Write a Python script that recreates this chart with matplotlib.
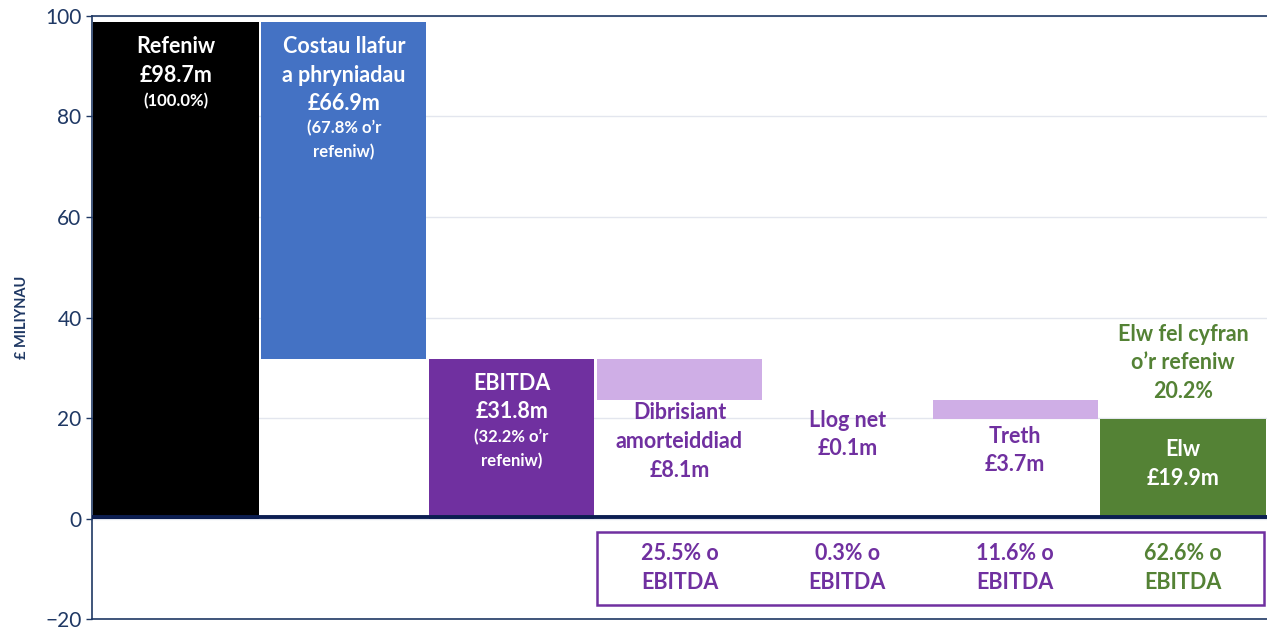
import matplotlib
matplotlib.use("Agg")
import matplotlib.pyplot as plt
from matplotlib.patches import Rectangle

# waterfall data (£ millions)
categories = ["Refeniw", "Costau", "EBITDA", "Dibrisiant", "Llog", "Treth", "Elw"]
revenue = 98.7
deductions = [66.9, 8.1, 0.1, 3.7]   # costs, depreciation, interest, tax
ebitda = 31.8
profit = 19.9

bar_labels = [
    "Refeniw\n£98.7m",
    "Costau llafur\na phryniadau\n£66.9m",
    "EBITDA\n£31.8m",
    "Dibrisiant\namorteiddiad\n£8.1m",
    "Llog net\n£0.1m",
    "Treth\n£3.7m",
    "Elw\n£19.9m",
]
sub_labels = ["(100.0%)", "(67.8% o\u2019r\nrefeniw)", "(32.2% o\u2019r\nrefeniw)", "", "", "", ""]
ebitda_share = ["25.5% o\nEBITDA", "0.3% o\nEBITDA", "11.6% o\nEBITDA", "62.6% o\nEBITDA"]
profit_margin = "Elw fel cyfran\no\u2019r refeniw\n20.2%"

NAVY = "#1F3864"
PURPLE = "#7030A0"
LILAC = "#CFAEE6"
GREEN = "#548235"
BLUE = "#4472C4"
# the interest bar is too thin to show in the original, so leave it unfilled
colors = ["#000000", BLUE, PURPLE, LILAC, "none", LILAC, GREEN]

plt.rcParams["font.family"] = ["Lato", "DejaVu Sans"]
FS = 15.5
LS = 1.45

# work out bottoms/heights of the floating bars
heights = [revenue, deductions[0], ebitda, deductions[1], deductions[2], deductions[3], profit]
bottoms = [0, revenue - deductions[0], 0]
level = ebitda
for d in deductions[1:]:
    level = level - d
    bottoms.append(level)
bottoms.append(0)

fig = plt.figure(figsize=(12.67, 6.30), dpi=100)
ax = fig.add_axes([0.0726, 0.017, 0.9274, 0.958])

x = list(range(len(categories)))
ax.bar(x, heights, bottom=bottoms, width=0.985, color=colors, zorder=2)

ax.set_xlim(-0.5, 6.5)
ax.set_ylim(-20, 100)
ax.set_yticks([-20, 0, 20, 40, 60, 80, 100])
ax.set_xticks([])
ax.tick_params(axis="y", colors=NAVY, labelsize=15, length=4, width=1)
ax.yaxis.grid(True, color="#E3E6EE", lw=1, zorder=0)
for s in ["left", "top", "bottom"]:
    ax.spines[s].set_color(NAVY)
    ax.spines[s].set_linewidth(1.2)
ax.spines["right"].set_visible(False)
ax.axhline(0.3, color="#0C1E52", lw=2.8, zorder=4)
ax.set_ylabel("£ MILIYNAU", fontsize=10.5, color=NAVY, fontweight="bold", labelpad=12)

# labels inside the first three bars
tops = [b + h for b, h in zip(bottoms, heights)]
for i in [0, 1, 2]:
    ax.annotate(bar_labels[i], (x[i], tops[i]), xytext=(0, -10), textcoords="offset points",
                ha="center", va="top", color="white", fontsize=FS, fontweight="bold",
                linespacing=LS, zorder=5)
    nlines = bar_labels[i].count("\n") + 1
    ax.annotate(sub_labels[i], (x[i], tops[i]), xytext=(0, -11 - nlines * 19.8),
                textcoords="offset points", ha="center", va="top", color="white",
                fontsize=12, fontweight="bold", linespacing=1.6, zorder=5)

# labels under the lilac bars
for i, off in zip([3, 4, 5], [-2, -7, -5]):
    ax.annotate(bar_labels[i], (x[i], bottoms[i]), xytext=(0, off), textcoords="offset points",
                ha="center", va="top", color=PURPLE, fontsize=FS, fontweight="bold",
                linespacing=LS, zorder=5)

ax.text(x[6], profit / 2 + 0.9, bar_labels[6], ha="center", va="center", color="white",
        fontsize=FS, fontweight="bold", linespacing=LS, zorder=5)
ax.annotate(profit_margin, (x[6], tops[6]), xytext=(0, 12), textcoords="offset points",
            ha="center", va="bottom", color=GREEN, fontsize=FS, fontweight="bold",
            linespacing=LS, zorder=5)

# box of shares of EBITDA
ax.add_patch(Rectangle((2.51, -17.1), 3.97, 14.5, fill=False, edgecolor=PURPLE, lw=1.8, zorder=5))
for j, txt in enumerate(ebitda_share):
    ax.text(x[3 + j], -9.8, txt, ha="center", va="center", fontsize=FS, fontweight="bold",
            color=GREEN if j == 3 else PURPLE, linespacing=LS, zorder=5)

fig.savefig("out.png", dpi=100)
